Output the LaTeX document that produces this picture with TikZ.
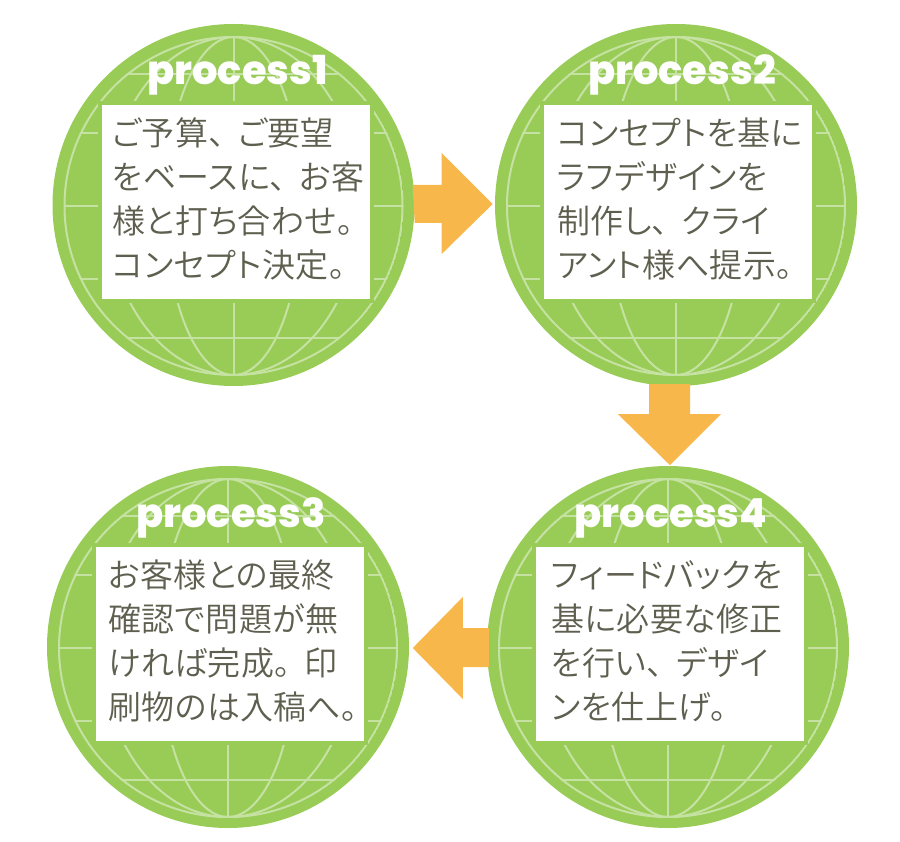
\documentclass[tikz,border=0pt]{standalone}
\usepackage{fontspec}
\newfontfamily\jpfont{Noto Sans CJK JP DemiLight}[RawFeature=+palt,LetterSpace=1.2]
\newfontfamily\titlefont{Poppins}[UprightFont=* ExtraBold]
\newcommand{\wideten}{、\hspace{13pt}}
\newcommand{\widemaru}{。\hspace{13pt}}
\definecolor{globe}{HTML}{99CC57}
\definecolor{gridline}{HTML}{C6E2A2}
\definecolor{arrowc}{HTML}{F7B74B}
\definecolor{inkc}{HTML}{5E5F4F}
\tikzset{
  globenode/.style={circle,fill=globe,minimum size=362pt,inner sep=0pt},
  boxnode/.style={rectangle,fill=white,draw=globe,line width=4pt,minimum width=272pt,minimum height=198pt,inner sep=0pt},
  bodytext/.style={inner sep=0pt,align=left,text=inkc,font=\jpfont\fontsize{33}{44}\selectfont},
  titletext/.style={inner sep=0pt,anchor=base,text=white,font=\titlefont\fontsize{40}{42}\selectfont},
  gridstroke/.style={draw=gridline,line width=2pt},
  blockarrow/.style={fill=arrowc,draw=none}
}
% name, cx, cy, title dx, text dx, title, body
\newcommand{\procglobe}[7]{%
  \node[globenode] (#1) at (#2,#3) {};
  \begin{scope}[shift={(#2,#3+1)}]
    \clip (0,0) circle (170);
    \draw[gridstroke] (0,0) circle (169);
    \draw[gridstroke] (0,0) ellipse (126 and 169);
    \draw[gridstroke] (0,0) ellipse (68 and 169);
    \draw[gridstroke] (0,-170) -- (0,170);
    \foreach \yy in {-132,-73,0,73,132} {\draw[gridstroke] (-170,\yy) -- (170,\yy);}
  \end{scope}
  \node[boxnode] (#1box) at (#2+2,#3-3) {};
  \node[titletext] (#1title) at (#2+#4,#3-120) {#6};
  \node[bodytext,anchor=west] (#1text) at (#2+#5,#3-6) {#7};
}
\begin{document}
\begin{tikzpicture}[x=1pt,y=-1pt]
\useasboundingbox (0,0) rectangle (900,842);
\procglobe{pa}{233.5}{205}{4}{-121.5}{process1}{ご予算\wideten ご要望\\をベースに\wideten お客\\様と打ち合わせ。\\コンセプト決定。}
\procglobe{pb}{676}{205}{6}{-119}{process2}{コンセプトを基に\\ラフデザインを\\制作し\wideten クライ\\アント様へ提示。}
\procglobe{pc}{228}{647}{3}{-120}{process3}{お客様との最終\\確認で問題が無\\ければ完成\widemaru 印\\刷物のは入稿へ。}
\procglobe{pd}{668}{647}{3}{-117}{process4}{フィードバックを\\基に必要な修正\\を行い\wideten デザイ\\ンを仕上げ。}
\path[blockarrow] (pa.east) ++(-2,-20) -- ++(29,0) -- ++(0,-32) -- ++(51,51) -- ++(-51,50) -- ++(0,-31) -- ++(-27,0) -- cycle;
\path[blockarrow] (pb.south) ++(-27,-2) -- ++(0,30) -- ++(-31,0) -- ++(52,51) -- ++(51,-51) -- ++(-31,0) -- ++(0,-30) -- cycle;
\path[blockarrow] (pd.west) ++(2,-19) -- ++(-26,0) -- ++(0,-31) -- ++(-50,51) -- ++(50,51) -- ++(0,-32) -- ++(26,0) -- cycle;
\end{tikzpicture}
\end{document}
